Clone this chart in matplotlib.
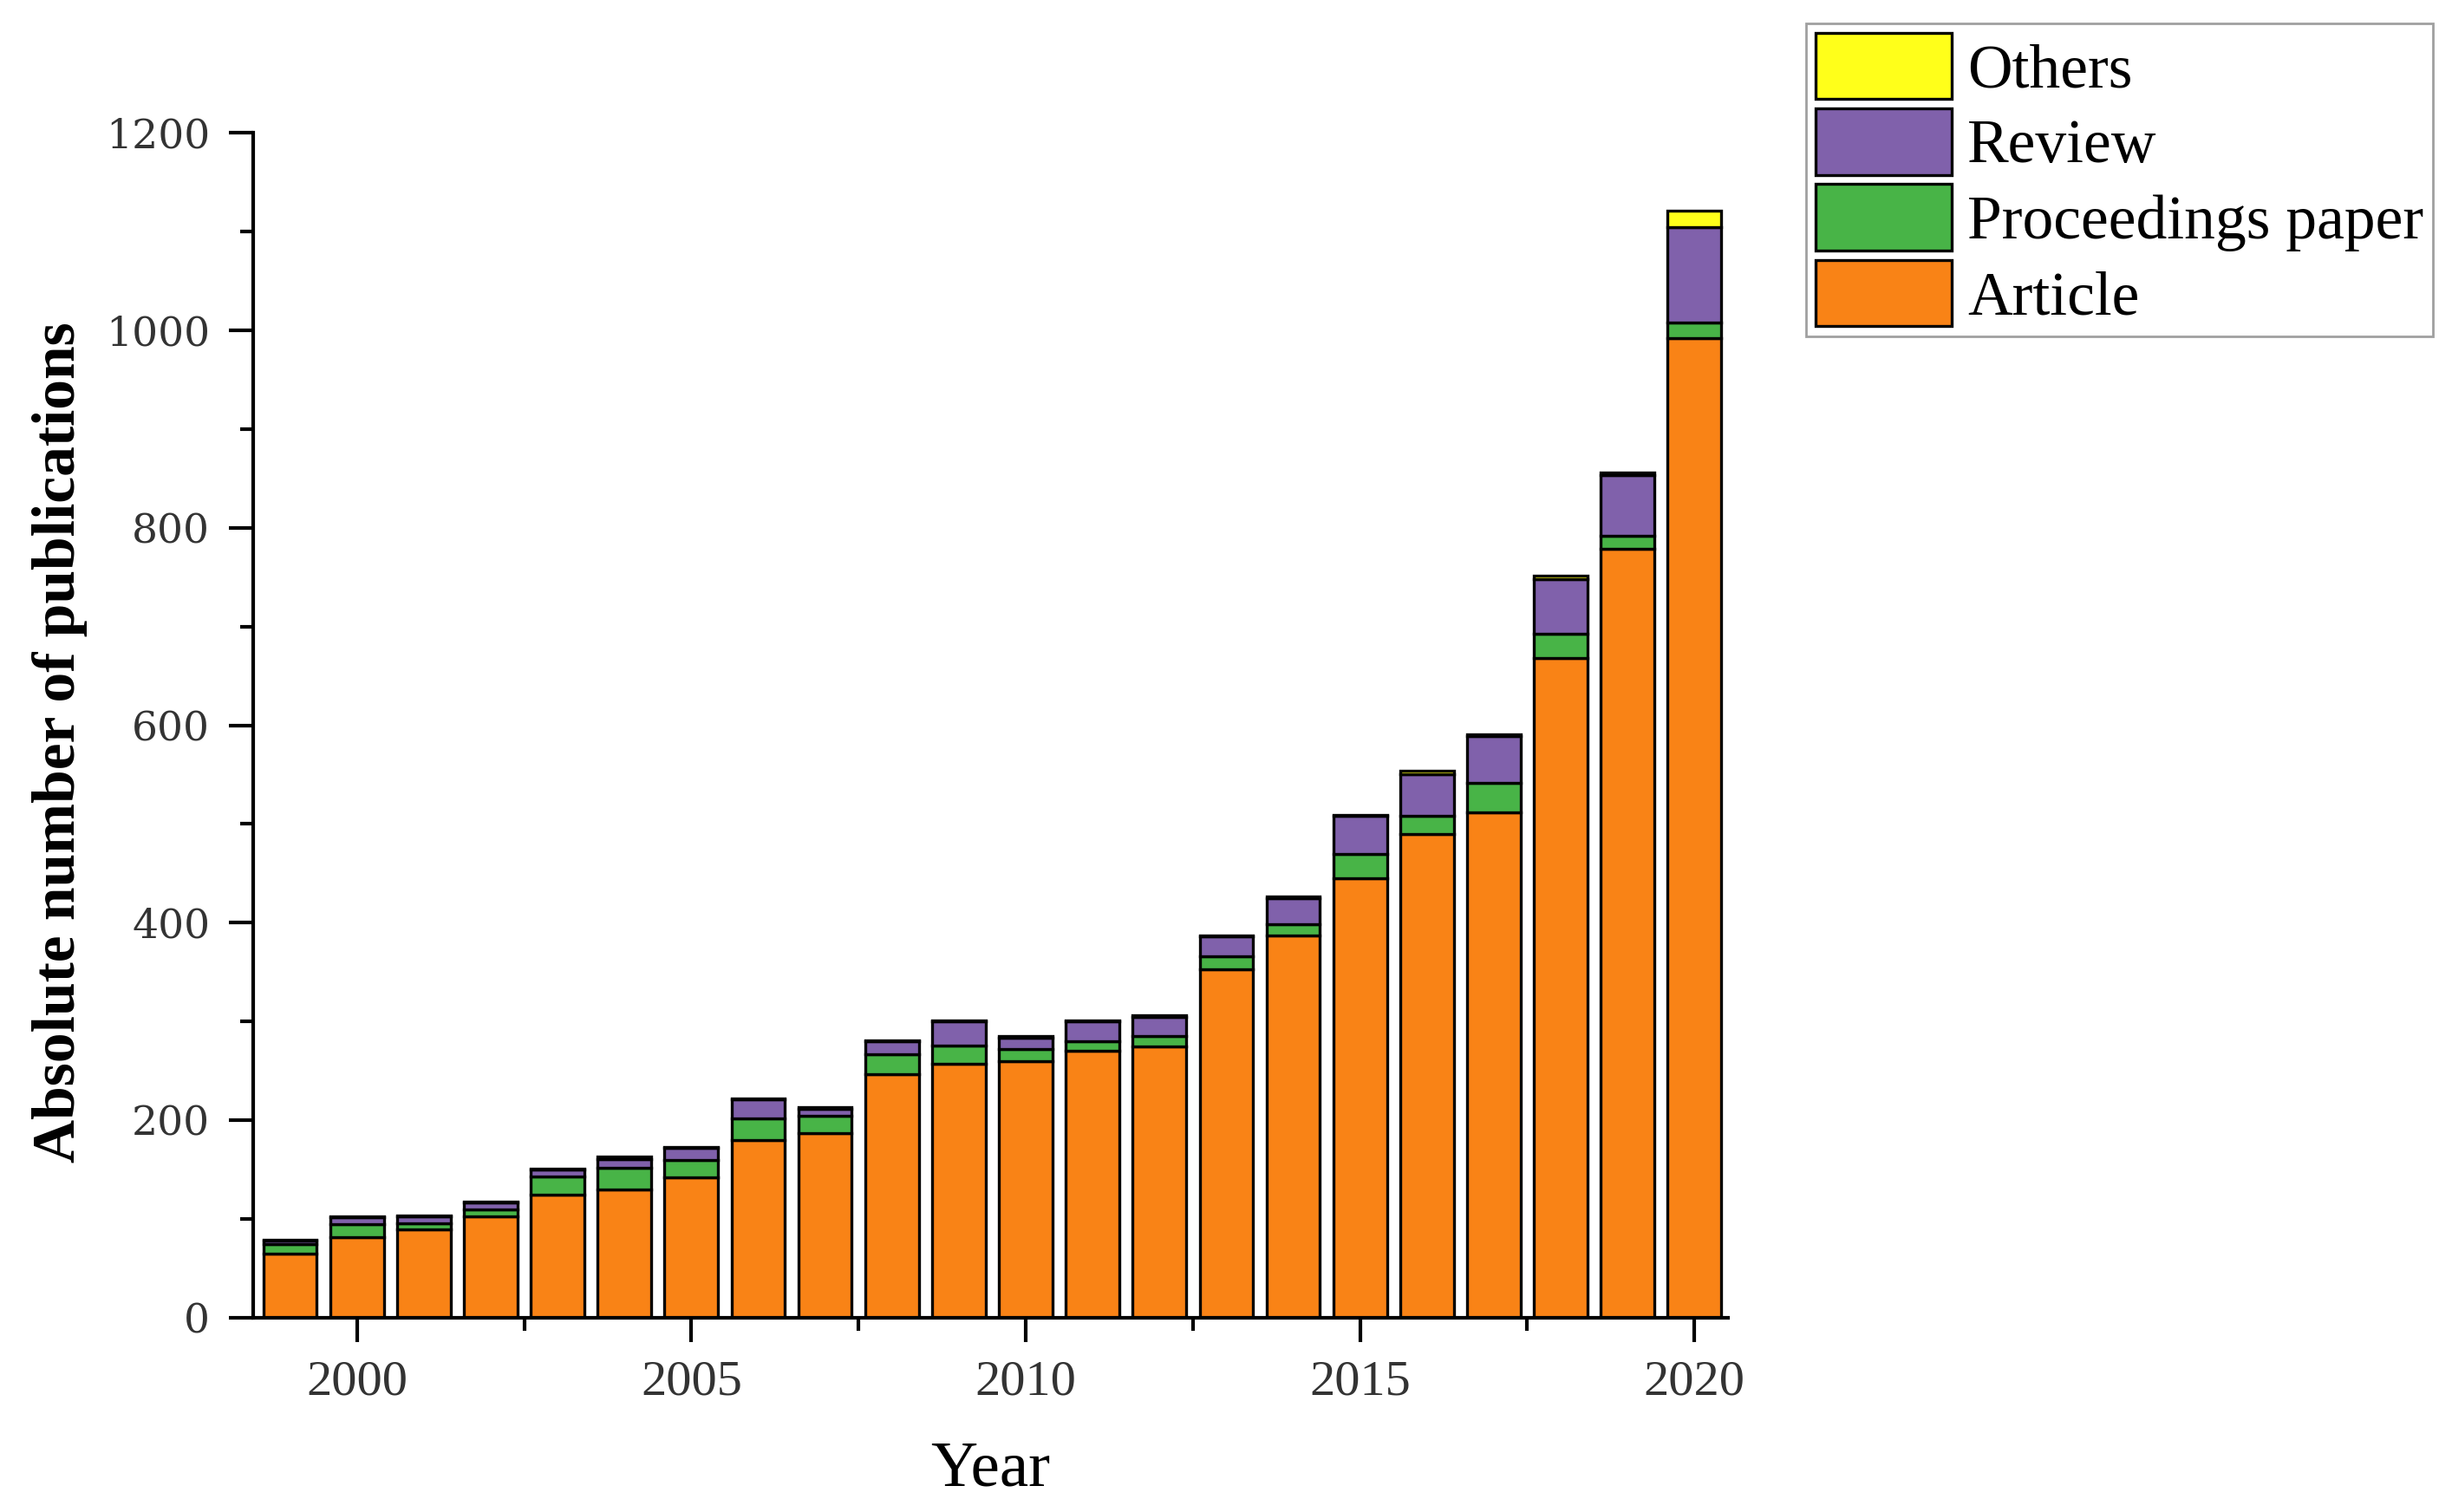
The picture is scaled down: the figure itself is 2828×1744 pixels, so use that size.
import matplotlib
matplotlib.use("Agg")
import matplotlib.pyplot as plt
from matplotlib.ticker import MultipleLocator
import numpy as np

years = list(range(1999, 2021))
article = [65, 82, 90, 103, 125, 130, 142, 180, 187, 247, 257, 260, 270, 275,
           353, 387, 445, 490, 512, 668, 779, 992]
proceedings = [10, 13, 6, 7, 18, 22, 18, 22, 18, 20, 19, 12, 10, 10,
               13, 12, 25, 18, 30, 25, 13, 16]
review = [3, 7, 7, 7, 7, 9, 12, 19, 7, 13, 24, 12, 20, 20,
          20, 26, 38, 42, 47, 55, 61, 96]
others = [1, 1, 1, 1, 1, 2, 1, 1, 1, 1, 1, 1, 1, 1,
          1, 2, 1, 4, 2, 3, 3, 17]

series = [
    ("Article", article, "#F98316"),
    ("Proceedings paper", proceedings, "#48B447"),
    ("Review", review, "#8061AB"),
    ("Others", others, "#FFFF1A"),
]

serif = ["Liberation Serif", "DejaVu Serif"]

fig = plt.figure(figsize=(28.28, 17.44), dpi=100)
ax = fig.add_axes([0.1033, 0.1284, 0.6014, 0.7839])

bottom = np.zeros(len(years))
handles = []
for name, vals, color in series:
    bars = ax.bar(years, vals, width=0.8, bottom=bottom, color=color,
                  edgecolor="black", linewidth=2.4, label=name)
    bottom += np.array(vals)
    handles.append(bars)

ax.set_xlim(1998.45, 2020.5)
ax.set_ylim(0, 1200)
ax.spines["top"].set_visible(False)
ax.spines["right"].set_visible(False)
for s in ("left", "bottom"):
    ax.spines[s].set_linewidth(3)

ax.xaxis.set_major_locator(MultipleLocator(5))
ax.xaxis.set_minor_locator(MultipleLocator(2.5))
ax.yaxis.set_major_locator(MultipleLocator(200))
ax.yaxis.set_minor_locator(MultipleLocator(100))
ax.tick_params(axis="both", which="major", length=20, width=3, direction="out")
ax.tick_params(axis="both", which="minor", length=11, width=3, direction="out")
ax.tick_params(axis="x", pad=15)
ax.tick_params(axis="y", pad=16)

for lab in ax.get_xticklabels():
    lab.set_family(serif)
    lab.set_fontsize(42)
    lab.set_color("#333333")
for lab in ax.get_yticklabels():
    lab.set_family(["DejaVu Serif"])
    lab.set_fontsize(34)
    lab.set_color("#333333")

ax.set_xlabel("Year", fontsize=54, family=serif, labelpad=30)
ax.set_ylabel("Absolute number of publications", fontsize=50, family=serif,
              fontweight="bold")
ax.yaxis.set_label_coords(-0.1126, 0.4855)

leg = fig.legend(handles[::-1], [s[0] for s in series][::-1],
                 loc="upper left", bbox_to_anchor=(0.7366, 0.9845),
                 prop={"family": serif, "size": 51.5}, frameon=True,
                 fancybox=False, edgecolor="#888888", handlelength=2.2,
                 handleheight=1.27, handletextpad=0.25, labelspacing=0.14,
                 borderpad=0.15, borderaxespad=0)
leg.get_frame().set_linewidth(2)

fig.savefig("out.png", dpi=100)
